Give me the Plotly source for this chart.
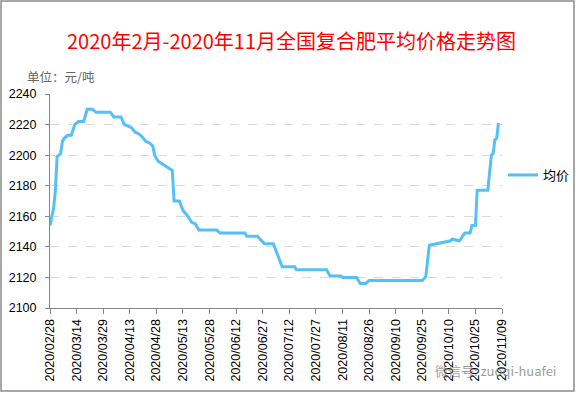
import plotly.graph_objects as go
from datetime import date, timedelta

dates = ["2020-02-28", "2020-03-01", "2020-03-02", "2020-03-03", "2020-03-05", "2020-03-06",
         "2020-03-07", "2020-03-09", "2020-03-11", "2020-03-13", "2020-03-15", "2020-03-18",
         "2020-03-20", "2020-03-23", "2020-03-25", "2020-04-02", "2020-04-04", "2020-04-08",
         "2020-04-10", "2020-04-14", "2020-04-16", "2020-04-18", "2020-04-20", "2020-04-22",
         "2020-04-24", "2020-04-26", "2020-04-27", "2020-04-29", "2020-05-07", "2020-05-08",
         "2020-05-11", "2020-05-13", "2020-05-15", "2020-05-18", "2020-05-20", "2020-05-22",
         "2020-06-01", "2020-06-03", "2020-06-17", "2020-06-18", "2020-06-24", "2020-06-28",
         "2020-07-03", "2020-07-06", "2020-07-08", "2020-07-15", "2020-07-16", "2020-08-02",
         "2020-08-04", "2020-08-10", "2020-08-11", "2020-08-19", "2020-08-21", "2020-08-24",
         "2020-08-26", "2020-09-25", "2020-09-27", "2020-09-29", "2020-10-11", "2020-10-12",
         "2020-10-16", "2020-10-19", "2020-10-22", "2020-10-23", "2020-10-25", "2020-10-26",
         "2020-11-01", "2020-11-03", "2020-11-04", "2020-11-05", "2020-11-06", "2020-11-07"]

prices = [2154, 2165, 2176, 2199, 2201, 2209,
          2211, 2213, 2213, 2220, 2222, 2222,
          2230, 2230, 2228, 2228, 2225, 2225,
          2220, 2218, 2215, 2214, 2212, 2209,
          2208, 2206, 2200, 2196, 2190, 2170,
          2170, 2164, 2161, 2156, 2155, 2151,
          2151, 2149, 2149, 2147, 2147, 2142,
          2142, 2133, 2127, 2127, 2125, 2125,
          2121, 2121, 2120, 2120, 2116, 2116,
          2118, 2118, 2120.5, 2141, 2144, 2145,
          2144, 2149, 2149, 2154, 2154, 2177,
          2177, 2200, 2201, 2210, 2211, 2221]

series_name = "均价"
title_text = "2020年2月-2020年11月全国复合肥平均价格走势图"
unit_text = "单位：元/吨"
watermark_text = "微信号: zuoqi-huafei"

start = date(2020, 2, 28)
tick_dates = [start + timedelta(days=15 * i) for i in range(18)]
tick_vals = [d.isoformat() for d in tick_dates]
tick_text = [d.strftime("%Y/%m/%d") for d in tick_dates]

W, H = 576, 393
L, R, T, B = 50, 74, 94, 85
pw, ph = W - L - R, H - T - B

def px(x):
    return (x - L) / pw

def py(y):
    return (H - B - y) / ph

fig = go.Figure()
fig.add_trace(go.Scatter(
    x=dates, y=prices, mode="lines", name=series_name,
    line=dict(color="#55C0F5", width=3),
))

fig.update_layout(
    width=W, height=H,
    margin=dict(l=L, r=R, t=T, b=B, autoexpand=False),
    paper_bgcolor="white", plot_bgcolor="white",
    font=dict(family="Liberation Sans, Arial, Noto Sans CJK SC", size=12, color="black"),
    showlegend=True,
    legend=dict(x=px(503), y=py(175), xanchor="left", yanchor="middle",
                font=dict(size=13, family="Noto Sans CJK SC"),
                bgcolor="rgba(0,0,0,0)", borderwidth=0),
    xaxis=dict(
        type="date",
        range=[tick_vals[0], tick_vals[-1]],
        tickmode="array", tickvals=tick_vals, ticktext=tick_text,
        tickangle=-90, tickfont=dict(size=12.5),
        showgrid=False, showline=True, linecolor="#868686", linewidth=1,
        ticks="outside", ticklen=5, tickcolor="#868686",
        zeroline=False,
    ),
    yaxis=dict(
        range=[2100, 2240], dtick=20, tick0=2100,
        showgrid=True, gridcolor="#D9D9D9", griddash="dash", gridwidth=1,
        showline=True, linecolor="#868686", linewidth=1,
        ticks="outside", ticklen=4, tickcolor="#868686",
        tickfont=dict(size=12.5), ticklabelstandoff=6,
        zeroline=False,
    ),
    shapes=[dict(type="rect", xref="paper", yref="paper",
                 x0=px(1), x1=px(574), y0=py(391), y1=py(1),
                 line=dict(color="#8C8C8C", width=1.5), fillcolor="rgba(0,0,0,0)",
                 layer="below")],
    annotations=[
        dict(text=title_text, xref="paper", yref="paper", x=px(291), y=py(40),
             xanchor="center", yanchor="middle", showarrow=False,
             font=dict(size=20, color="#FF0000", family="Noto Sans CJK SC")),
        dict(text=unit_text, xref="paper", yref="paper", x=px(25), y=py(76),
             xanchor="left", yanchor="middle", showarrow=False,
             font=dict(size=12.5, color="#666666", family="Noto Sans CJK SC")),
        dict(text=watermark_text, xref="paper", yref="paper", x=px(558), y=py(370),
             xanchor="right", yanchor="middle", showarrow=False,
             font=dict(size=13, color="rgba(120,120,120,0.75)", family="Noto Sans CJK SC")),
    ],
)

fig.write_html("out.html", config={"displayModeBar": False},
               post_script="document.body.style.margin='0';document.body.style.overflow='hidden';")
